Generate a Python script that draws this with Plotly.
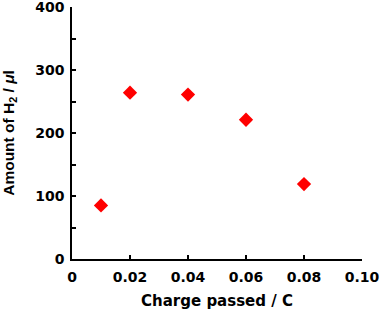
import plotly.graph_objects as go

charge = [0.01, 0.02, 0.04, 0.06, 0.08]
h2_amount = [85, 264, 261, 221, 119]
x_ticks = [0, 0.02, 0.04, 0.06, 0.08, 0.10]
x_tick_labels = ["0", "0.02", "0.04", "0.06", "0.08", "0.10"]
y_ticks = [0, 100, 200, 300, 400]
y_tick_labels = ["0", "100", "200", "300", "400"]
y_minor_ticks = [50, 150, 250, 350]

fig = go.Figure()
fig.add_trace(go.Scatter(
    x=charge, y=h2_amount, mode="markers",
    marker=dict(symbol="diamond", size=11, color="#ff0000", line=dict(width=0)),
    showlegend=False, cliponaxis=False,
))

tick_font = dict(family="DejaVu Sans", size=14, color="black", weight="bold")
xtitle_font = dict(family="DejaVu Sans", size=15, color="black", weight="bold")
ytitle_font = dict(family="Liberation Sans, Arial, sans-serif", size=15.5, color="black", weight="bold")

fig.update_layout(
    width=380, height=314,
    margin=dict(l=72, r=18, t=7, b=55, autoexpand=False),
    paper_bgcolor="white", plot_bgcolor="white",
    font=tick_font,
)
fig.update_xaxes(
    range=[0, 0.1], tickmode="array", tickvals=x_ticks, ticktext=x_tick_labels,
    showline=True, linecolor="black", linewidth=1.5,
    ticks="inside", ticklen=4, tickwidth=1.5, tickcolor="black",
    showgrid=False, zeroline=False, tickfont=tick_font,
    ticklabeloverflow="allow",
    title=dict(text="Charge passed / C", font=xtitle_font, standoff=12),
    ticklabelstandoff=4, automargin=False,
)
fig.update_yaxes(
    range=[0, 400], tickmode="array", tickvals=y_ticks, ticktext=y_tick_labels,
    showline=True, linecolor="black", linewidth=1.5,
    ticks="inside", ticklen=4, tickwidth=1.5, tickcolor="black",
    minor=dict(tickvals=y_minor_ticks, ticks="inside", ticklen=4, tickwidth=1.5, tickcolor="black"),
    showgrid=False, zeroline=False, tickfont=tick_font,
    ticklabeloverflow="allow",
    title=dict(text="Amount of H<sub>2</sub> / <i>μ</i>l", font=ytitle_font, standoff=18),
    ticklabelstandoff=3, automargin=False,
)

fig.write_html(
    "out.html",
    config={"displayModeBar": False},
    post_script="document.body.style.margin='0';document.body.style.padding='0';document.body.style.overflow='hidden';",
)
